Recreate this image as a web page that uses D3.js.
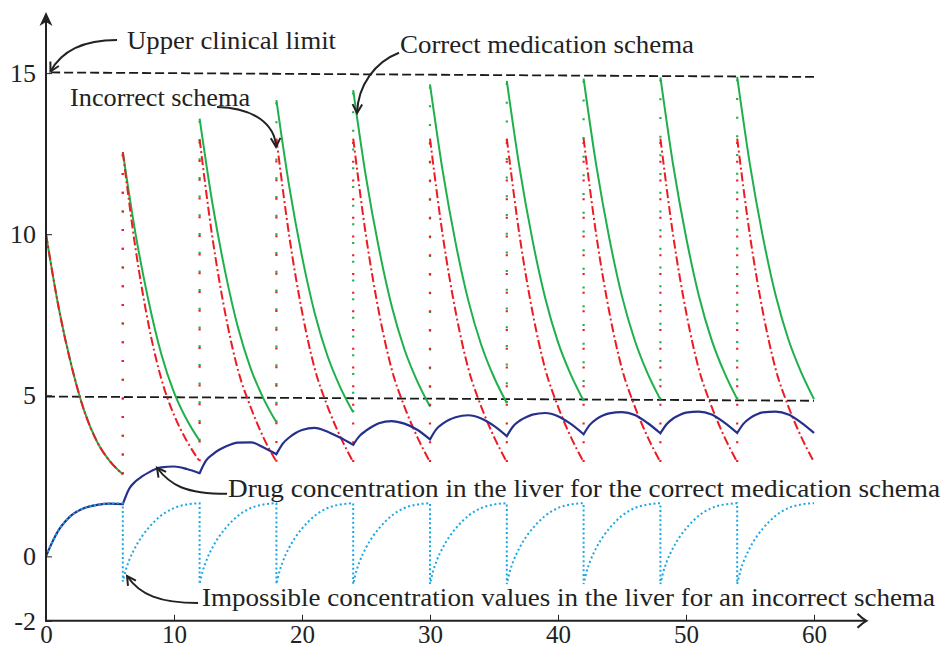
<!DOCTYPE html>
<html><head><meta charset="utf-8">
<script src="https://cdn.jsdelivr.net/npm/d3@7"></script>
<style>body{margin:0;background:#fff}svg{display:block}</style>
</head><body>
<svg id="c" width="942" height="649"></svg>
<script>
// ---------- data ----------
const xTicks = [0, 10, 20, 30, 40, 50, 60];
const yTicks = [-2, 0, 5, 10, 15];
const doseTimes = [0, 6, 12, 18, 24, 30, 36, 42, 48, 54];
const hourSteps = [0, 1, 2, 3, 4, 5, 6];

// plasma concentration, correct medication schema (one row per dosing interval)
const greenSegments = [
  [10.00, 7.70, 5.90, 4.50, 3.55, 2.95, 2.55],
  [12.55, 10.00, 7.95, 6.29, 5.09, 4.24, 3.59],
  [13.59, 10.96, 8.83, 7.10, 5.82, 4.89, 4.16],
  [14.16, 11.49, 9.31, 7.54, 6.21, 5.24, 4.47],
  [14.47, 11.77, 9.58, 7.78, 6.43, 5.44, 4.65],
  [14.65, 11.94, 9.73, 7.93, 6.57, 5.56, 4.76],
  [14.76, 12.05, 9.83, 8.02, 6.65, 5.64, 4.83],
  [14.83, 12.11, 9.89, 8.07, 6.70, 5.68, 4.87],
  [14.87, 12.14, 9.92, 8.10, 6.72, 5.70, 4.88],
  [14.88, 12.15, 9.93, 8.11, 6.73, 5.71, 4.88]
];
// plasma concentration, incorrect schema
const redSegments = [
  [10.00, 7.70, 5.90, 4.50, 3.55, 2.95, 2.55],
  [12.55, 9.54, 7.22, 5.52, 4.39, 3.58, 2.95],
  [12.95, 9.90, 7.55, 5.78, 4.62, 3.68, 2.94],
  [12.97, 9.95, 7.60, 5.82, 4.65, 3.71, 2.93],
  [12.97, 9.95, 7.60, 5.82, 4.65, 3.71, 2.93],
  [12.97, 9.95, 7.60, 5.82, 4.65, 3.71, 2.93],
  [12.97, 9.95, 7.60, 5.82, 4.65, 3.71, 2.93],
  [12.97, 9.95, 7.60, 5.82, 4.65, 3.71, 2.93],
  [12.97, 9.95, 7.60, 5.82, 4.65, 3.71, 2.93],
  [12.97, 9.95, 7.60, 5.82, 4.65, 3.71, 2.93]
];
// liver concentration, correct schema
const liverSteps = [0, 0.5, 1, 1.5, 2, 3, 4, 5, 6];
const liverCorrect = [
  [0.00, 0.45, 0.82, 1.08, 1.28, 1.50, 1.60, 1.64, 1.62],
  [1.62, 2.10, 2.33, 2.48, 2.60, 2.76, 2.79, 2.71, 2.58],
  [2.58, 2.97, 3.16, 3.30, 3.40, 3.53, 3.54, 3.38, 3.17],
  [3.17, 3.50, 3.69, 3.83, 3.92, 3.99, 3.87, 3.68, 3.46],
  [3.46, 3.74, 3.90, 4.03, 4.13, 4.20, 4.12, 3.93, 3.63],
  [3.63, 3.95, 4.12, 4.24, 4.32, 4.38, 4.28, 4.05, 3.73],
  [3.73, 4.04, 4.21, 4.32, 4.40, 4.45, 4.35, 4.11, 3.79],
  [3.79, 4.09, 4.26, 4.37, 4.44, 4.48, 4.39, 4.14, 3.82],
  [3.82, 4.11, 4.28, 4.39, 4.46, 4.49, 4.40, 4.15, 3.83],
  [3.83, 4.12, 4.29, 4.40, 4.47, 4.49, 4.40, 4.15, 3.83]
];
// liver concentration, incorrect schema (impossible values)
const liverStepsImp = [0, 0.25, 0.5, 1, 1.5, 2, 3, 4, 5, 6];
const liverIncorrect = [
  [0.00, 0.25, 0.45, 0.82, 1.08, 1.28, 1.50, 1.60, 1.64, 1.65],
  [-0.78, -0.40, -0.12, 0.30, 0.62, 0.88, 1.27, 1.50, 1.61, 1.65],
  [-0.86, -0.45, -0.16, 0.27, 0.60, 0.86, 1.26, 1.50, 1.61, 1.65],
  [-0.86, -0.45, -0.16, 0.27, 0.60, 0.86, 1.26, 1.50, 1.61, 1.65],
  [-0.86, -0.45, -0.16, 0.27, 0.60, 0.86, 1.26, 1.50, 1.61, 1.65],
  [-0.86, -0.45, -0.16, 0.27, 0.60, 0.86, 1.26, 1.50, 1.61, 1.65],
  [-0.86, -0.45, -0.16, 0.27, 0.60, 0.86, 1.26, 1.50, 1.61, 1.65],
  [-0.86, -0.45, -0.16, 0.27, 0.60, 0.86, 1.26, 1.50, 1.61, 1.65],
  [-0.86, -0.45, -0.16, 0.27, 0.60, 0.86, 1.26, 1.50, 1.61, 1.65],
  [-0.86, -0.45, -0.16, 0.27, 0.60, 0.86, 1.26, 1.50, 1.61, 1.65]
];
const upperLimit = [[0.4, 15.02], [60, 14.88]];
const lowerLimit = [[0, 4.96], [60, 4.83]];

const annotationTexts = [
  "Upper clinical limit",
  "Correct medication schema",
  "Incorrect schema",
  "Drug concentration in the liver for the correct medication schema",
  "Impossible concentration values in the liver for an incorrect schema"
];
const annotationAnchors = [[6.33, 15.75], [27.66, 15.63], [1.88, 13.98], [14.22, 1.84], [12.19, -1.53]];
const annotationArrows = [
  [[5.55, 16.03], [3.05, 16.03], [1.25, 15.72], [0.35, 15.05]],
  [[27.58, 15.63], [25.70, 15.34], [24.38, 14.63], [24.30, 13.76]],
  [[13.36, 13.95], [16.33, 13.92], [17.89, 13.39], [17.97, 12.71]],
  [[14.14, 1.94], [10.86, 1.94], [9.69, 2.22], [8.67, 2.75]],
  [[11.88, -1.45], [8.91, -1.45], [7.34, -1.20], [6.33, -0.61]]
];

// ---------- drawing ----------
const svg = d3.select('#c');
const FONT = "'Liberation Serif', 'DejaVu Serif', serif";
const INK = '#222';
const x = d3.scaleLinear().domain([0, 60]).range([46, 814]);
const y = d3.scaleLinear().domain([-2, 15]).range([620.8, 73.1]);

const line = d3.line().x(d => x(d[0])).y(d => y(d[1])).curve(d3.curveMonotoneX);
const straight = d3.line().x(d => x(d[0])).y(d => y(d[1]));

// limit lines
[upperLimit, lowerLimit].forEach(l => {
  svg.append('path').attr('d', straight(l)).attr('fill', 'none')
    .attr('stroke', '#1a1a1a').attr('stroke-width', 1.8).attr('stroke-dasharray', '9,4');
});

function segPts(seg, k, steps) { return seg.map((v, i) => [doseTimes[k] + steps[i], v]); }

// green segments
greenSegments.forEach((seg, k) => {
  svg.append('path').attr('d', line(segPts(seg, k, hourSteps))).attr('fill', 'none')
    .attr('stroke', '#1fb04b').attr('stroke-width', 2);
});
// dotted verticals
function verticals(segs, color) {
  for (let k = 1; k < segs.length; k++) {
    const t = doseTimes[k];
    svg.append('path').attr('d', straight([[t, segs[k - 1][segs[k - 1].length - 1]], [t, segs[k][0]]]))
      .attr('fill', 'none').attr('stroke', color).attr('stroke-width', 2.2)
      .attr('stroke-dasharray', '2,16.7');
  }
}
verticals(greenSegments, '#1fb04b');
verticals(redSegments, '#ec1c24');
// red segments
redSegments.forEach((seg, k) => {
  svg.append('path').attr('d', line(segPts(seg, k, hourSteps))).attr('fill', 'none')
    .attr('stroke', '#ec1c24').attr('stroke-width', 2).attr('stroke-dasharray', '9,3,2,3');
});
// blue liver curve
let bluePath = liverCorrect.map((c, k) => {
  const d = line(segPts(c, k, liverSteps));
  return k === 0 ? d : d.replace(/^M/, 'L');
}).join('');
svg.append('path').attr('d', bluePath).attr('fill', 'none')
  .attr('stroke', '#252f8c').attr('stroke-width', 2.2);
// cyan impossible values
let cyanPath = liverIncorrect.map((c, k) => {
  const d = line(segPts(c, k, liverStepsImp));
  return k === 0 ? d : d.replace(/^M/, 'L');
}).join('');
svg.append('path').attr('d', cyanPath).attr('fill', 'none')
  .attr('stroke', '#1aa7e6').attr('stroke-width', 2).attr('stroke-dasharray', '2,2.6');

// axes
const fmt = d => String(d);
const gx = svg.append('g').attr('transform', `translate(0,${y(-2)})`)
  .call(d3.axisBottom(x).tickValues(xTicks).tickSizeInner(-6).tickSizeOuter(0).tickPadding(4).tickFormat(fmt));
gx.select('.domain').remove();
gx.selectAll('line').attr('stroke', INK).attr('stroke-width', 1);
gx.selectAll('text').attr('font-family', FONT).attr('font-size', 25).attr('fill', INK);

const gy = svg.append('g').attr('transform', `translate(${x(0)},0)`)
  .call(d3.axisLeft(y).tickValues(yTicks).tickSizeInner(-6).tickSizeOuter(0).tickPadding(10).tickFormat(fmt));
gy.select('.domain').remove();
gy.selectAll('line').attr('stroke', INK).attr('stroke-width', 1);
gy.selectAll('text').attr('font-family', FONT).attr('font-size', 26).attr('fill', INK);

// axis lines with arrows
const x0 = x(0), yb = y(-2), yTop = y(16.9), xEnd = x(64.1);
svg.append('line').attr('x1', x0).attr('y1', yb + 1).attr('x2', x0).attr('y2', yTop + 8)
  .attr('stroke', INK).attr('stroke-width', 2);
svg.append('path').attr('d', `M${x0},${yTop} L${x0 + 6.5},${yTop + 14} L${x0},${yTop + 10} L${x0 - 6.5},${yTop + 14} Z`)
  .attr('fill', INK);
svg.append('line').attr('x1', x0 - 1).attr('y1', yb).attr('x2', xEnd).attr('y2', yb)
  .attr('stroke', INK).attr('stroke-width', 2);
svg.append('path').attr('d', `M${xEnd - 9},${yb - 7} Q${xEnd - 4},${yb - 2} ${xEnd},${yb} Q${xEnd - 4},${yb + 2} ${xEnd - 9},${yb + 7}`)
  .attr('fill', 'none').attr('stroke', INK).attr('stroke-width', 2);

// annotations
annotationArrows.forEach(a => {
  const p = a.map(d => [x(d[0]), y(d[1])]);
  svg.append('path').attr('d', `M${p[0]}C${p[1]} ${p[2]} ${p[3]}`)
    .attr('fill', 'none').attr('stroke', INK).attr('stroke-width', 2);
  const ang = Math.atan2(p[3][1] - p[2][1], p[3][0] - p[2][0]);
  const L = 10, w = 0.5;
  const a1 = [p[3][0] - L * Math.cos(ang - w), p[3][1] - L * Math.sin(ang - w)];
  const a2 = [p[3][0] - L * Math.cos(ang + w), p[3][1] - L * Math.sin(ang + w)];
  svg.append('path').attr('d', `M${a1} L${p[3]} L${a2}`)
    .attr('fill', 'none').attr('stroke', INK).attr('stroke-width', 2)
    .attr('stroke-linejoin', 'miter');
});
const textWidths = [209, 294, 180, 712, 733];
annotationTexts.forEach((t, i) => {
  svg.append('text').attr('x', x(annotationAnchors[i][0])).attr('y', y(annotationAnchors[i][1]))
    .attr('font-family', FONT).attr('font-size', 25).attr('fill', INK)
    .attr('textLength', textWidths[i]).attr('lengthAdjust', 'spacingAndGlyphs')
    .text(t);
});
</script>
</body></html>
